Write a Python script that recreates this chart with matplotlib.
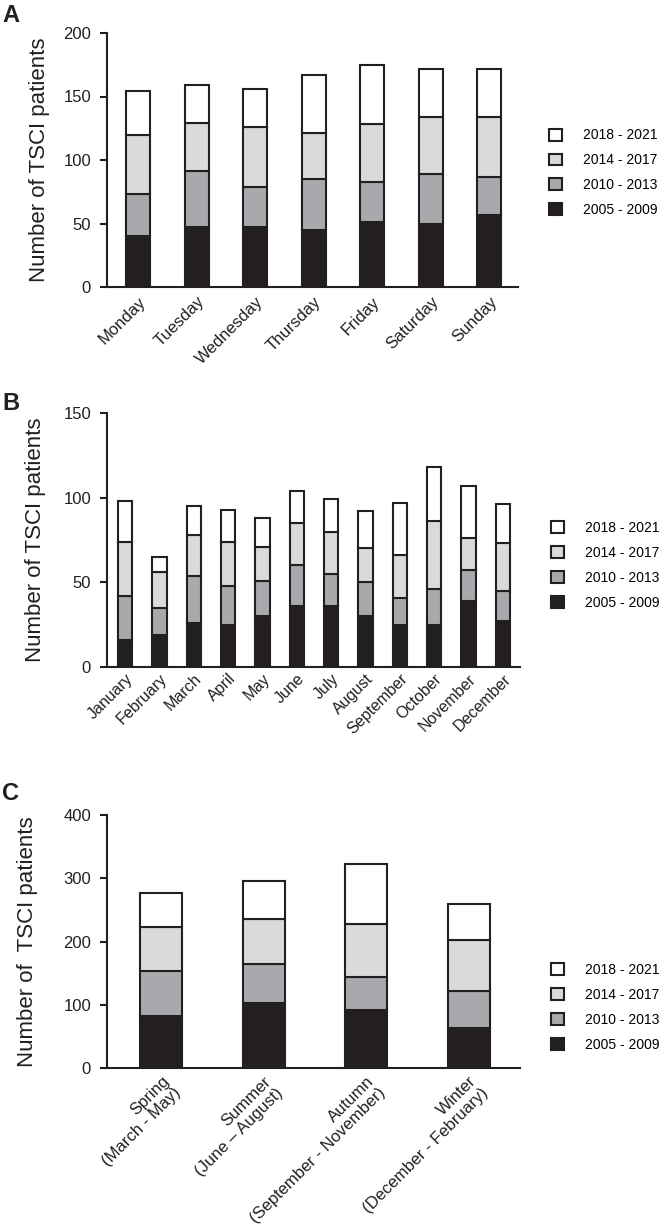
import numpy as np
import matplotlib.pyplot as plt

plt.rcParams['font.family'] = ['Liberation Sans', 'DejaVu Sans']

periods = ['2005 - 2009', '2010 - 2013', '2014 - 2017', '2018 - 2021']
colors = ['#231f20', '#a7a9ac', '#d9dadb', '#ffffff']
ink = '#231f20'

# panel A - day of week
days = ['Monday', 'Tuesday', 'Wednesday', 'Thursday', 'Friday', 'Saturday', 'Sunday']
day_0509 = [40, 47, 47, 45, 51, 50, 57]
day_1013 = [33, 44, 32, 40, 32, 39, 30]
day_1417 = [47, 38, 47, 36, 45, 45, 47]
day_1821 = [34, 30, 30, 46, 47, 38, 38]

# panel B - month
months = ['January', 'February', 'March', 'April', 'May', 'June', 'July',
          'August', 'September', 'October', 'November', 'December']
mon_0509 = [16, 19, 26, 25, 30, 36, 36, 30, 25, 25, 39, 27]
mon_1013 = [26, 16, 28, 23, 21, 24, 19, 20, 16, 21, 18, 18]
mon_1417 = [32, 21, 24, 26, 20, 25, 25, 20, 25, 40, 19, 28]
mon_1821 = [24, 9, 17, 19, 17, 19, 19, 22, 31, 32, 31, 23]

# panel C - season
seasons = ['Spring\n(March - May)', 'Summer\n(June \u2013 August)',
           'Autumn\n(September - November)', 'Winter\n(December - February)']
sea_0509 = [82, 103, 91, 63]
sea_1013 = [71, 62, 53, 58]
sea_1417 = [70, 71, 84, 82]
sea_1821 = [53, 60, 94, 56]


def panel(ax, labels, series, ymax, ystep, ylabel, xfs, xpad, leg_y, xlim_r):
    x = np.arange(len(labels))
    bottom = np.zeros(len(labels))
    handles = []
    for vals, c, lab in zip(series, colors, periods):
        b = ax.bar(x, vals, 0.41, bottom=bottom, color=c, edgecolor=ink,
                   linewidth=1.5, label=lab)
        handles.append(b)
        bottom += np.array(vals)
    ax.set_ylim(0, ymax)
    ax.set_yticks(np.arange(0, ymax + 1, ystep))
    ax.set_xlim(-0.53, xlim_r)
    ax.set_xticks(x)
    ax.set_xticklabels(labels, rotation=45, ha='right', rotation_mode='anchor',
                       fontsize=xfs, multialignment='right', linespacing=1.1)
    ax.tick_params(axis='x', length=0, pad=xpad, colors=ink)
    ax.tick_params(axis='y', length=5, width=1.5, labelsize=12, colors=ink, pad=6.5)
    for s in ['top', 'right']:
        ax.spines[s].set_visible(False)
    for s in ['left', 'bottom']:
        ax.spines[s].set_linewidth(1.5)
        ax.spines[s].set_color(ink)
    ax.set_ylabel(ylabel, fontsize=16, color=ink)
    ax.legend(handles[::-1], periods[::-1], loc='center left',
              bbox_to_anchor=(1.075, leg_y), frameon=False, fontsize=10,
              handlelength=0.95, handleheight=0.95, handletextpad=1.5,
              labelspacing=0.78, borderpad=0, borderaxespad=0)


fig = plt.figure(figsize=(6.6, 12.31), dpi=100)
W, H = 660.0, 1231.0

axA = fig.add_axes([107 / W, 1 - 287 / H, 411 / W, 254 / H])
axB = fig.add_axes([107 / W, 1 - 667 / H, 413 / W, 254 / H])
axC = fig.add_axes([107 / W, 1 - 1068 / H, 413 / W, 253 / H])

panel(axA, days, [day_0509, day_1013, day_1417, day_1821], 200, 50,
      'Number of TSCI patients', 12, 5, 0.45, 6.49)
panel(axB, months, [mon_0509, mon_1013, mon_1417, mon_1821], 150, 50,
      'Number of TSCI patients', 11.5, 3, 0.40, 11.5)
panel(axC, seasons, [sea_0509, sea_1013, sea_1417, sea_1821], 400, 100,
      'Number of  TSCI patients', 12, 4, 0.24, 3.5)

axA.yaxis.set_label_coords(-0.138, 0.5)
axB.yaxis.set_label_coords(-0.148, 0.5)
axC.yaxis.set_label_coords(-0.167, 0.5)

for letter, ytop in [('A', 4), ('B', 392), ('C', 782)]:
    fig.text(2 / W, 1 - ytop / H, letter, fontsize=17, fontweight='bold',
             va='top', ha='left', color=ink)

fig.savefig('out.png', dpi=100)
